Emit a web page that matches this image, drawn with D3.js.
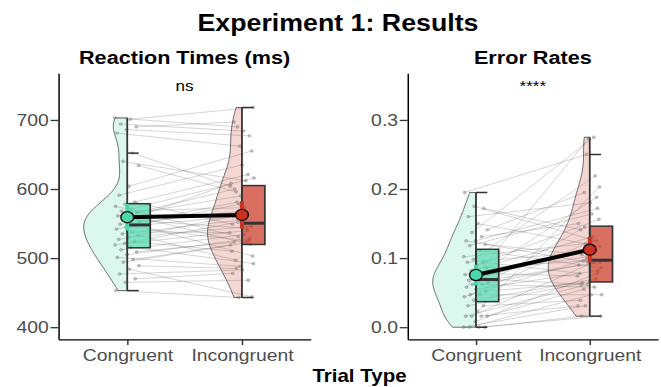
<!DOCTYPE html>
<html>
<head>
<meta charset="utf-8">
<script src="https://cdn.jsdelivr.net/npm/d3@7"></script>
<style>
  html, body { margin: 0; padding: 0; background: #fff; }
  svg { display: block; font-family: "Liberation Sans", Arial, Helvetica, sans-serif; }
</style>
</head>
<body>
<svg id="chart"></svg>
<script>
const conditions = ['Congruent', 'Incongruent'];

// one entry per participant, same order in both conditions (paired)
const rtCongruent = [703, 701, 694, 690, 686, 681, 652, 640, 634, 604, 591, 581, 578, 575, 571, 568,
  566, 563, 561, 558, 556, 553, 551, 549, 547, 545, 542, 538, 535, 533, 530, 527,
  524, 521, 519, 516, 512, 509, 505, 501, 498, 494, 489, 484, 477, 470, 465, 453];
const rtIncongruent = [690, 718, 684, 697, 677, 662, 604, 612, 596, 655, 635, 549, 621, 531, 616, 573,
  600, 520, 590, 608, 543, 581, 503, 568, 560, 525, 578, 537, 556, 497, 546, 563,
  510, 540, 552, 492, 534, 523, 528, 488, 519, 522, 485, 444, 483, 478, 468, 443];

const erCongruent = [0, 0, 0, 0, 0.008, 0.016, 0.016, 0.016, 0.016, 0.023, 0.031, 0.031,
  0.039, 0.044, 0.047, 0.047, 0.052, 0.055, 0.058, 0.062, 0.062, 0.065, 0.066, 0.068,
  0.070, 0.073, 0.076, 0.078, 0.082, 0.086, 0.090, 0.094, 0.094, 0.098, 0.102, 0.111,
  0.118, 0.120, 0.125, 0.125, 0.131, 0.137, 0.141, 0.150, 0.160, 0.172, 0.175, 0.195];
const erIncongruent = [0.031, 0.016, 0.047, 0.016, 0.078, 0.062, 0.031, 0.094, 0.055, 0.203, 0.066, 0.039,
  0.070, 0.098, 0.047, 0.125, 0.064, 0.082, 0.273, 0.090, 0.058, 0.145, 0.094, 0.113,
  0.062, 0.188, 0.102, 0.074, 0.131, 0.096, 0.156, 0.109, 0.078, 0.219, 0.121, 0.086,
  0.164, 0.105, 0.172, 0.094, 0.150, 0.275, 0.195, 0.117, 0.180, 0.141, 0.125, 0.250];

const rtTicks = [400, 500, 600, 700];
const erTicks = [0, 0.1, 0.2, 0.3];

const colors = { Congruent: '#4dd6ab', Incongruent: '#c8321e' };

// the reference picture is stretched sideways, so draw in narrower units and let the viewBox stretch
const W = 661, H = 387, SX = 1.139;
const px = v => v / SX;
const plotTop = 73.3, plotBottom = 339.3;

const svg = d3.select('#chart')
  .attr('width', W).attr('height', H)
  .attr('viewBox', `0 0 ${W / SX} ${H}`)
  .attr('preserveAspectRatio', 'none');

function nrd0(v) {
  const iqr = (d3.quantile(v, 0.75) - d3.quantile(v, 0.25)) / 1.34;
  return 0.9 * Math.min(d3.deviation(v), iqr) * Math.pow(v.length, -0.2);
}

function kde(values, bw, lo, hi, n = 120) {
  return d3.range(n + 1).map(i => {
    const t = lo + (hi - lo) * i / n;
    const d = d3.mean(values, v => Math.exp(-0.5 * ((t - v) / bw) ** 2)) / (bw * Math.sqrt(2 * Math.PI));
    return [t, d];
  });
}

function drawPanel(cfg) {
  const g = svg.append('g');
  const x = d3.scaleLinear().domain([0.4, 2.6]).range([px(cfg.left), px(cfg.right)]);
  const y = d3.scaleLinear().domain(cfg.domain).range([plotBottom, plotTop]);
  const step = x(2) - x(1);

  const groups = conditions.map((name, k) => {
    const values = cfg.data[k];
    const ext = d3.extent(values);
    const q1 = d3.quantile(values, 0.25), med = d3.quantile(values, 0.5), q3 = d3.quantile(values, 0.75);
    const iqr = q3 - q1;
    const lo = d3.min(values.filter(v => v >= q1 - 1.5 * iqr));
    const hi = d3.max(values.filter(v => v <= q3 + 1.5 * iqr));
    const mean = d3.mean(values);
    const ci = 2.01 * d3.deviation(values) / Math.sqrt(values.length);
    return { name, k, cx: x(k + 1), values, ext, q1, med, q3, lo, hi, mean, ci,
      dens: kde(values, nrd0(values), ext[0], ext[1]) };
  });

  // half violins (left side)
  const maxD = d3.max(groups, gr => d3.max(gr.dens, d => d[1]));
  const w = d3.scaleLinear().domain([0, maxD]).range([0, 0.38 * step]);
  const line = d3.line();
  g.selectAll('.violin')
    .data(groups)
    .enter().append('path')
    .attr('class', 'violin')
    .attr('d', gr => line([[gr.cx, y(gr.ext[0])]]
      .concat(gr.dens.map(d => [gr.cx - w(d[1]), y(d[0])]))
      .concat([[gr.cx, y(gr.ext[1])]])) + 'Z')
    .attr('fill', gr => colors[gr.name])
    .attr('fill-opacity', 0.2)
    .attr('stroke', '#222')
    .attr('stroke-width', 0.6);

  // paired lines and jittered points
  const jit = (i, s) => ((((i + s) * 0.6180339887) % 1) - 0.5) * 0.22 * step;
  const subjects = cfg.data[0].map((v, i) => ({
    x1: groups[0].cx + jit(i, 0), y1: y(v),
    x2: groups[1].cx + jit(i, 7), y2: y(cfg.data[1][i])
  }));
  g.selectAll('.pair')
    .data(subjects)
    .enter().append('line')
    .attr('class', 'pair')
    .attr('x1', d => d.x1).attr('y1', d => d.y1)
    .attr('x2', d => d.x2).attr('y2', d => d.y2)
    .attr('stroke', '#444').attr('stroke-opacity', 0.35).attr('stroke-width', 0.6);

  const pts = subjects.flatMap(d => [[d.x1, d.y1], [d.x2, d.y2]]);
  g.selectAll('.pt')
    .data(pts)
    .enter().append('circle')
    .attr('class', 'pt')
    .attr('cx', d => d[0]).attr('cy', d => d[1]).attr('r', 1.4)
    .attr('fill', '#888').attr('fill-opacity', 0.45)
    .attr('stroke', '#555').attr('stroke-opacity', 0.45).attr('stroke-width', 0.5);

  // boxplots (right side)
  const bw = 0.2 * step;
  const box = g.selectAll('.box').data(groups).enter().append('g').attr('class', 'box');
  box.append('rect')
    .attr('x', gr => gr.cx).attr('width', bw)
    .attr('y', gr => y(gr.q3)).attr('height', gr => y(gr.q1) - y(gr.q3))
    .attr('fill', gr => colors[gr.name]).attr('fill-opacity', 0.7)
    .attr('stroke', '#333').attr('stroke-width', 1.5);
  box.append('line')
    .attr('x1', gr => gr.cx).attr('x2', gr => gr.cx + bw)
    .attr('y1', gr => y(gr.med)).attr('y2', gr => y(gr.med))
    .attr('stroke', '#333').attr('stroke-width', 3);
  box.append('line') // flat edge of the violin / whisker line
    .attr('x1', gr => gr.cx).attr('x2', gr => gr.cx)
    .attr('y1', gr => y(gr.ext[0])).attr('y2', gr => y(gr.ext[1]))
    .attr('stroke', '#333').attr('stroke-width', 1.5);
  ['lo', 'hi'].forEach(key => {
    box.append('line')
      .attr('x1', gr => gr.cx).attr('x2', gr => gr.cx + bw / 2)
      .attr('y1', gr => y(gr[key])).attr('y2', gr => y(gr[key]))
      .attr('stroke', '#333').attr('stroke-width', 1.5);
  });

  // means with confidence intervals
  g.append('line')
    .attr('x1', groups[0].cx).attr('y1', y(groups[0].mean))
    .attr('x2', groups[1].cx).attr('y2', y(groups[1].mean))
    .attr('stroke', '#000').attr('stroke-width', 4);
  g.selectAll('.ci')
    .data(groups)
    .enter().append('line')
    .attr('class', 'ci')
    .attr('x1', gr => gr.cx).attr('x2', gr => gr.cx)
    .attr('y1', gr => y(gr.mean - gr.ci)).attr('y2', gr => y(gr.mean + gr.ci))
    .attr('stroke', gr => colors[gr.name]).attr('stroke-width', 3.5);
  g.selectAll('.mean')
    .data(groups)
    .enter().append('circle')
    .attr('class', 'mean')
    .attr('cx', gr => gr.cx).attr('cy', gr => y(gr.mean)).attr('r', 5.6)
    .attr('fill', gr => colors[gr.name])
    .attr('stroke', '#000').attr('stroke-width', 1.2);

  // axes
  const yAxis = g.append('g')
    .attr('transform', `translate(${x(0.4)},0)`)
    .call(d3.axisLeft(y).tickValues(cfg.ticks).tickFormat(cfg.fmt).tickSize(7).tickSizeOuter(0).tickPadding(1.5));
  const xAxis = g.append('g')
    .attr('transform', `translate(0,${plotBottom})`)
    .call(d3.axisBottom(x).tickValues([1, 2]).tickFormat(i => conditions[i - 1]).tickSize(5.7).tickSizeOuter(0).tickPadding(4.4));
  [yAxis, xAxis].forEach(a => {
    a.attr('font-family', null).attr('font-size', null);
    a.select('.domain').attr('stroke', '#000').attr('stroke-width', 1.3);
    a.selectAll('.tick line').attr('stroke', '#333').attr('stroke-width', 1.3);
    a.selectAll('.tick text').attr('fill', '#4d4d4d').style('font-size', '17px');
  });

  // panel title and significance label
  const mid = (x(0.4) + x(2.6)) / 2;
  g.append('text')
    .attr('x', mid).attr('y', 64)
    .attr('text-anchor', 'middle')
    .style('font-size', '19px').style('font-weight', 'bold')
    .text(cfg.title);
  g.append('text')
    .attr('x', mid).attr('y', 91.5)
    .attr('text-anchor', 'middle')
    .style('font-size', '15px')
    .text(cfg.note);
}

drawPanel({
  left: 58.5, right: 310.7,
  domain: [382.5, 767.5], ticks: rtTicks, fmt: d3.format('d'),
  data: [rtCongruent, rtIncongruent],
  title: 'Reaction Times (ms)', note: 'ns'
});
drawPanel({
  left: 407.7, right: 658,
  domain: [-0.0175, 0.3675], ticks: erTicks, fmt: d3.format('.1f'),
  data: [erCongruent, erIncongruent],
  title: 'Error Rates', note: '****'
});

svg.append('text')
  .attr('x', px(338)).attr('y', 31.5)
  .attr('text-anchor', 'middle')
  .style('font-size', '23.5px').style('font-weight', 'bold')
  .text('Experiment 1: Results');

svg.append('text')
  .attr('x', px(359.5)).attr('y', 382.5)
  .attr('text-anchor', 'middle')
  .style('font-size', '18px').style('font-weight', 'bold')
  .text('Trial Type');
</script>
</body>
</html>
